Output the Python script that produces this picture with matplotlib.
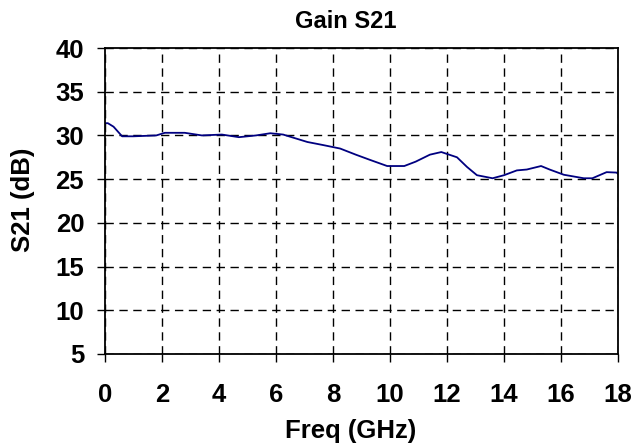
import matplotlib
matplotlib.use('Agg')
import matplotlib.pyplot as plt

# S21 gain
freq_ghz = [0.0, 0.1, 0.3, 0.6, 1.0, 1.8, 2.1, 2.8, 3.4, 4.1, 4.7, 5.3, 5.8, 6.25,
            7.1, 7.65, 8.25, 8.8, 9.3, 9.9, 10.5, 10.9, 11.4, 11.8, 12.35, 12.7,
            13.05, 13.6, 14.0, 14.45, 14.8, 15.3, 15.6, 16.1, 16.8, 17.1, 17.6, 17.95, 18.0]
s21_db = [31.4, 31.4, 31.0, 29.9, 29.9, 30.0, 30.3, 30.3, 30.0, 30.1, 29.8, 30.0, 30.25, 30.1,
          29.25, 28.9, 28.5, 27.8, 27.2, 26.5, 26.5, 27.0, 27.8, 28.1, 27.5, 26.4,
          25.45, 25.1, 25.45, 26.0, 26.1, 26.5, 26.1, 25.5, 25.1, 25.1, 25.8, 25.75, 25.6]

x_ticks = list(range(0, 19, 2))
y_ticks = list(range(5, 41, 5))

plt.rcParams['font.family'] = ['Liberation Sans', 'DejaVu Sans']

fig = plt.figure(figsize=(6.34, 4.47), dpi=100)
ax = fig.add_axes([0.1656, 0.2081, 0.9748 - 0.1656, 0.8926 - 0.2081])

ax.plot(freq_ghz, s21_db, color='#000080', lw=1.3)

ax.set_xlim(0, 18)
ax.set_ylim(5, 40)
ax.set_xticks(x_ticks, labels=[str(v) for v in x_ticks], fontsize=18.5, fontweight='bold')
ax.set_yticks(y_ticks, labels=[str(v) for v in y_ticks], fontsize=18.5, fontweight='bold')
ax.tick_params(direction='out', length=6, width=1)
ax.tick_params(axis='x', pad=15)
ax.tick_params(axis='y', pad=9)

ax.grid(True, color='black', linestyle=(0, (6, 4)), lw=1.0)
for sp in ax.spines.values():
    sp.set_color('black')
    sp.set_linewidth(1.3)

fig.text(346 / 634, 1 - 21 / 447, 'Gain S21', fontsize=17, fontweight='bold',
         ha='center', va='center')
fig.text(351 / 634, 1 - 431 / 447, 'Freq (GHz)', fontsize=18.5, fontweight='bold',
         ha='center', va='center')
fig.text(23 / 634, 1 - 200 / 447, 'S21 (dB)', fontsize=18.5, fontweight='bold',
         ha='center', va='center', rotation=90)

fig.savefig('out.png', dpi=100)
